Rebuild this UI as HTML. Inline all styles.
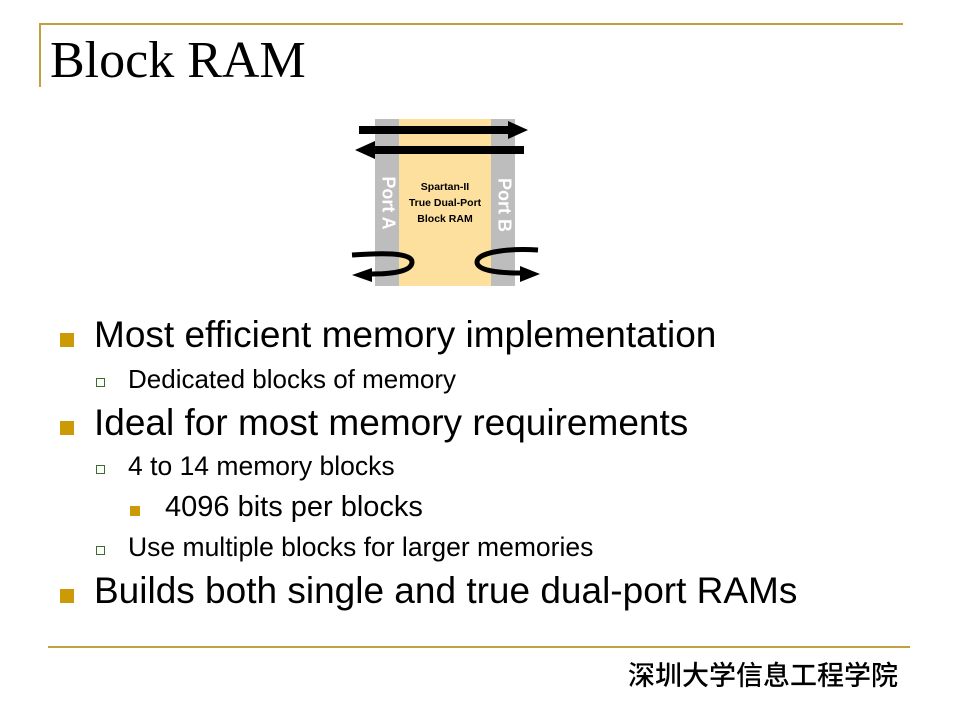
<!DOCTYPE html>
<html><head><meta charset="utf-8"><style>
body{margin:0;width:960px;height:720px;background:#fff;position:relative;overflow:hidden;font-family:"Liberation Sans",Arial,sans-serif}
.a{position:absolute;white-space:nowrap;line-height:1}
.b1{position:absolute;width:14px;height:14px;background:#CC9A06}
.b2{position:absolute;width:7px;height:7px;border:1px solid #3a6e2a}
.b3{position:absolute;width:10px;height:10px;background:#CC9A06}
</style></head><body>
<div style="position:absolute;left:40px;top:23px;width:863px;height:2px;background:#C0A040"></div>
<div style="position:absolute;left:39px;top:23px;width:2px;height:64px;background:#C0A040"></div>
<div class="a" style="left:50px;top:35px;font-family:'Liberation Serif',serif;font-size:52px">Block RAM</div>

<svg style="position:absolute;left:0;top:0" width="960" height="720">
<rect x="375" y="119" width="24" height="167" fill="#bdbdbd"/>
<rect x="399" y="119" width="92" height="167" fill="#fddf9e"/>
<rect x="491" y="119" width="24" height="167" fill="#bdbdbd"/>
<path d="M359 126 H508 V121 L528 130 L508 139 V134 H359Z" fill="#000"/>
<path d="M524 146 H375 V141 L355 150 L375 159 V154 H524Z" fill="#000"/>
<path d="M352 255 C380 253 412 252 412 262 C412 272 390 274 372 274" fill="none" stroke="#000" stroke-width="5"/>
<path d="M372 268 L352 275 L372 282Z" fill="#000"/>
<path d="M538 250 C510 248 477 252 477 262 C477 271 500 273 520 273" fill="none" stroke="#000" stroke-width="5"/>
<path d="M520 266 L540 274 L520 282Z" fill="#000"/>
<text x="387" y="203" transform="rotate(90 387 203)" text-anchor="middle" font-family="Liberation Sans" font-weight="bold" font-size="18" fill="#fff" dominant-baseline="middle">Port A</text>
<text x="503" y="205" transform="rotate(90 503 205)" text-anchor="middle" font-family="Liberation Sans" font-weight="bold" font-size="18" fill="#fff" dominant-baseline="middle">Port B</text>
<text x="445" y="190" text-anchor="middle" font-family="Liberation Sans" font-weight="bold" font-size="10.5">Spartan-II</text>
<text x="445" y="206" text-anchor="middle" font-family="Liberation Sans" font-weight="bold" font-size="10.5">True Dual-Port</text>
<text x="445" y="222" text-anchor="middle" font-family="Liberation Sans" font-weight="bold" font-size="10.5">Block RAM</text>
</svg>

<div class="b1" style="left:60px;top:333px"></div>
<div class="a" style="left:94px;top:316px;font-size:37px">Most efficient memory implementation</div>
<div class="b2" style="left:96px;top:378px"></div>
<div class="a" style="left:128px;top:366px;font-size:26px">Dedicated blocks of memory</div>
<div class="b1" style="left:60px;top:421px"></div>
<div class="a" style="left:94px;top:404px;font-size:37px">Ideal for most memory requirements</div>
<div class="b2" style="left:96px;top:465px"></div>
<div class="a" style="left:128px;top:453px;font-size:26.5px">4 to 14 memory blocks</div>
<div class="b3" style="left:130px;top:506px"></div>
<div class="a" style="left:165px;top:493px;font-size:29px">4096 bits per blocks</div>
<div class="b2" style="left:96px;top:546px"></div>
<div class="a" style="left:128px;top:534px;font-size:26.5px">Use multiple blocks for larger memories</div>
<div class="b1" style="left:60px;top:589px"></div>
<div class="a" style="left:94px;top:572px;font-size:37px">Builds both single and true dual-port RAMs</div>

<div style="position:absolute;left:48px;top:646px;width:862px;height:2px;background:#C0A040"></div>
<div class="a" style="left:628px;top:663px;font-size:27px;font-weight:500;font-family:'Liberation Sans','Noto Sans CJK SC',sans-serif">深圳大学信息工程学院</div>
</body></html>
